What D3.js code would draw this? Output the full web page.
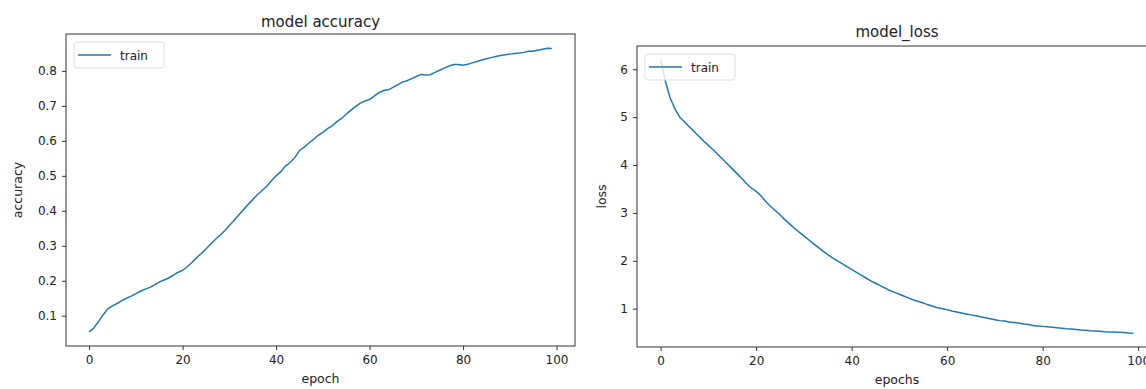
<!DOCTYPE html>
<html lang="en">
    <head>
        <meta charset="utf-8">
        <title>model accuracy / model_loss</title>
        <script type="text/javascript" src="https://cdnjs.cloudflare.com/ajax/libs/d3/7.8.5/d3.min.js"></script>
        <style type="text/css">
            body { margin: 0; background: #fff; }
            text { font-family: "DejaVu Sans", sans-serif; fill: #222; }
        </style>
    </head>
    <body>
        <script type="text/javascript">
            // values, one per epoch (0..99)
            var accuracy = [
                0.054, 0.065, 0.083, 0.103, 0.120, 0.128, 0.135, 0.143, 0.150, 0.156,
                0.163, 0.170, 0.176, 0.181, 0.188, 0.196, 0.202, 0.208, 0.216, 0.224,
                0.230, 0.240, 0.252, 0.266, 0.278, 0.291, 0.305, 0.318, 0.330, 0.343,
                0.358, 0.372, 0.388, 0.403, 0.418, 0.432, 0.446, 0.458, 0.470, 0.486,
                0.500, 0.512, 0.528, 0.538, 0.552, 0.572, 0.582, 0.594, 0.604, 0.616,
                0.624, 0.635, 0.643, 0.655, 0.664, 0.676, 0.688, 0.698, 0.708, 0.714,
                0.718, 0.728, 0.738, 0.744, 0.746, 0.753, 0.760, 0.768, 0.772, 0.778,
                0.784, 0.790, 0.788, 0.789, 0.796, 0.802, 0.808, 0.814, 0.818, 0.818,
                0.816, 0.819, 0.823, 0.827, 0.831, 0.835, 0.838, 0.841, 0.844, 0.846,
                0.848, 0.850, 0.851, 0.853, 0.856, 0.856, 0.859, 0.862, 0.865, 0.864
            ];
            var loss = [
                6.20, 5.75, 5.40, 5.17, 5.00, 4.90, 4.80, 4.70, 4.60, 4.50,
                4.41, 4.32, 4.22, 4.12, 4.02, 3.92, 3.82, 3.72, 3.61, 3.52,
                3.45, 3.36, 3.24, 3.14, 3.05, 2.96, 2.86, 2.77, 2.68, 2.60,
                2.52, 2.44, 2.36, 2.28, 2.20, 2.13, 2.06, 2.00, 1.94, 1.88,
                1.82, 1.76, 1.70, 1.64, 1.58, 1.53, 1.48, 1.43, 1.38, 1.34,
                1.30, 1.26, 1.22, 1.18, 1.15, 1.12, 1.08, 1.05, 1.02, 1.00,
                0.98, 0.95, 0.93, 0.91, 0.89, 0.87, 0.85, 0.83, 0.81, 0.79,
                0.77, 0.75, 0.74, 0.72, 0.71, 0.70, 0.68, 0.67, 0.65, 0.64,
                0.63, 0.62, 0.61, 0.60, 0.59, 0.58, 0.575, 0.565, 0.555, 0.55,
                0.54, 0.535, 0.53, 0.52, 0.515, 0.51, 0.505, 0.50, 0.49, 0.485
            ];
            var xTicks = [0, 20, 40, 60, 80, 100];
            var accTicks = [0.1, 0.2, 0.3, 0.4, 0.5, 0.6, 0.7, 0.8];
            var lossTicks = [1, 2, 3, 4, 5, 6];

            var w = 1146;
            var h = 389;

            var svg = d3.select("body")
                        .append("svg")
                        .attr("width", w)
                        .attr("height", h);

            // matplotlib-like 5% padding around the data
            function padded(ext) {
                var m = (ext[1] - ext[0]) * 0.05;
                return [ext[0] - m, ext[1] + m];
            }

            function panel(p) {
                var g = svg.append("g")
                           .attr("transform", "translate(" + p.left + "," + p.top + ")");
                var pw = p.width, ph = p.height;

                var x = d3.scaleLinear()
                          .domain(padded([0, p.values.length - 1]))
                          .range([0, pw]);
                var y = d3.scaleLinear()
                          .domain(padded(d3.extent(p.values)))
                          .range([ph, 0]);

                var xAxis = g.append("g")
                             .attr("transform", "translate(0," + ph + ")")
                             .call(d3.axisBottom(x).tickValues(xTicks).tickSize(4).tickPadding(5));
                var yAxis = g.append("g")
                             .call(d3.axisLeft(y).tickValues(p.ticks).tickSize(4).tickPadding(5)
                                     .tickFormat(p.fmt));
                [xAxis, yAxis].forEach(function(a) {
                    a.select(".domain").remove();
                    a.selectAll("line").attr("stroke", "#333");
                    a.selectAll("text").attr("font-size", "12px")
                     .attr("font-family", "DejaVu Sans").attr("fill", "#333");
                });

                g.append("path")
                 .datum(p.values)
                 .attr("fill", "none")
                 .attr("stroke", "#1f77b4")
                 .attr("stroke-width", 1.5)
                 .attr("d", d3.line()
                              .x(function(d, i) { return x(i); })
                              .y(function(d) { return y(d); }));

                g.append("rect")
                 .attr("width", pw)
                 .attr("height", ph)
                 .attr("fill", "none")
                 .attr("stroke", "#333")
                 .attr("stroke-width", 1);

                g.append("text")
                 .attr("x", pw / 2)
                 .attr("y", -p.titleGap)
                 .attr("text-anchor", "middle")
                 .attr("font-size", "15px")
                 .text(p.title);

                g.append("text")
                 .attr("x", pw / 2)
                 .attr("y", ph + 37)
                 .attr("text-anchor", "middle")
                 .attr("font-size", "12.5px")
                 .text(p.xlabel);

                g.append("text")
                 .attr("transform", "translate(" + p.ylabelX + "," + ph / 2 + ") rotate(-90)")
                 .attr("text-anchor", "middle")
                 .attr("font-size", "12.5px")
                 .text(p.ylabel);

                // legend
                var lg = g.append("g").attr("transform", "translate(8,8)");
                lg.append("rect")
                  .attr("width", 90)
                  .attr("height", 26)
                  .attr("rx", 3)
                  .attr("fill", "#fff")
                  .attr("fill-opacity", 0.8)
                  .attr("stroke", "#ddd");
                lg.append("line")
                  .attr("x1", 4).attr("x2", 37)
                  .attr("y1", 13).attr("y2", 13)
                  .attr("stroke", "#1f77b4")
                  .attr("stroke-width", 1.5);
                lg.append("text")
                  .attr("x", 46)
                  .attr("y", 17.5)
                  .attr("font-size", "12px")
                  .text("train");
            }

            panel({ values: accuracy, ticks: accTicks, fmt: d3.format(".1f"),
                    left: 66, top: 34, width: 509, height: 312, titleGap: 7,
                    title: "model accuracy", xlabel: "epoch", ylabel: "accuracy", ylabelX: -44 });
            panel({ values: loss, ticks: lossTicks, fmt: d3.format("d"),
                    left: 637, top: 46, width: 520, height: 301, titleGap: 9,
                    title: "model_loss", xlabel: "epochs", ylabel: "loss", ylabelX: -31 });
        </script>
    </body>
</html>
